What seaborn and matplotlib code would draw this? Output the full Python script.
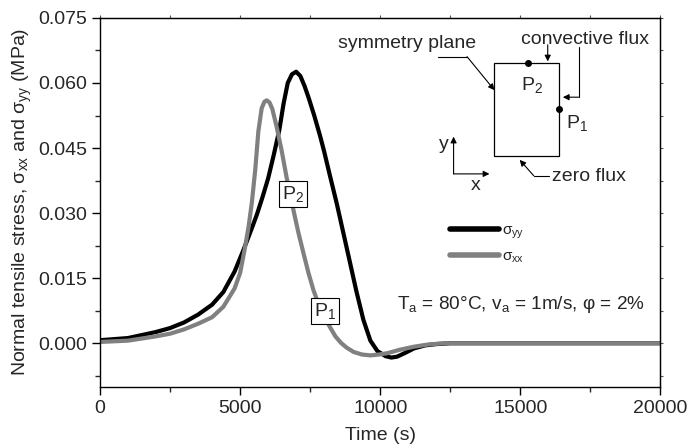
import matplotlib
matplotlib.use('Agg')
import matplotlib.pyplot as plt
import matplotlib.ticker as mticker
from matplotlib.patches import Rectangle
import pandas as pd
import seaborn as sns

# values
time_yy = [0, 1000, 2000, 2500, 3000, 3500, 4000, 4400, 4800, 5100, 5400,
           5600, 5800, 6000, 6200, 6400, 6550, 6700, 6850, 7000, 7150, 7300,
           7450, 7650, 7850, 8000, 8200, 8450, 8700, 8950, 9150, 9400, 9650,
           9900, 10200, 10400, 10600, 10900, 11200, 11600, 12000, 12500, 20000]
sigma_yy = [0.0007, 0.0012, 0.0026, 0.0035, 0.0048, 0.0066, 0.0089, 0.0118,
            0.0165, 0.0212, 0.0262, 0.0297, 0.0337, 0.0380, 0.0434, 0.0492,
            0.0552, 0.0600, 0.0620, 0.0626, 0.0616, 0.0593, 0.0565, 0.0524,
            0.0479, 0.0442, 0.0388, 0.0322, 0.0250, 0.0178, 0.0120, 0.0054,
            0.0006, -0.0018, -0.0030, -0.0033, -0.0031, -0.0022, -0.0012,
            -0.0005, -0.0002, 0.0, 0.0]

time_xx = [0, 1000, 2000, 2500, 3000, 3500, 4000, 4400, 4800, 5000, 5150,
           5300, 5420, 5540, 5650, 5770, 5870, 5950, 6050, 6150, 6300, 6480,
           6660, 6900, 7080, 7260, 7440, 7620, 7800, 8000, 8200, 8400, 8600,
           8800, 9050, 9350, 9650, 9950, 10250, 10700, 11200, 11700, 12300,
           20000]
sigma_xx = [0.0003, 0.0006, 0.0016, 0.0022, 0.0032, 0.0045, 0.0060, 0.0084,
            0.0126, 0.0162, 0.0212, 0.0268, 0.0325, 0.0400, 0.0488, 0.0542,
            0.0557, 0.0560, 0.0555, 0.0540, 0.0500, 0.0445, 0.0382, 0.0308,
            0.0255, 0.0208, 0.0162, 0.0122, 0.0090, 0.0062, 0.0038, 0.0016,
            0.0001, -0.0010, -0.0020, -0.0026, -0.0028, -0.0026, -0.0023,
            -0.0015, -0.0008, -0.0003, 0.0, 0.0]

series_labels = [r'σ$_\mathrm{yy}$', r'σ$_\mathrm{xx}$']
series_colors = ['#000000', '#808080']

x_ticks = [0, 5000, 10000, 15000, 20000]
y_ticks = [0.000, 0.015, 0.030, 0.045, 0.060, 0.075]

sns.set_style('ticks')
plt.rcParams['font.family'] = ['Liberation Sans', 'DejaVu Sans']
plt.rcParams['mathtext.fontset'] = 'custom'
plt.rcParams['mathtext.rm'] = 'Liberation Sans'
plt.rcParams['mathtext.it'] = 'Liberation Sans:italic'

df = pd.DataFrame({
    'time': time_yy + time_xx,
    'stress': sigma_yy + sigma_xx,
    'series': [series_labels[0]] * len(time_yy) + [series_labels[1]] * len(time_xx),
})

fig = plt.figure(figsize=(6.9, 4.48), dpi=100)
ax = fig.add_axes([0.145, 0.137, 0.812, 0.823])

sns.lineplot(data=df, x='time', y='stress', hue='series',
             palette=dict(zip(series_labels, series_colors)),
             linewidth=3, ax=ax, legend=True, sort=True)

ax.set_xlim(0, 20000)
ax.set_ylim(-0.01, 0.075)
ax.set_xticks(x_ticks)
ax.set_yticks(y_ticks)
ax.xaxis.set_minor_locator(mticker.MultipleLocator(2500))
ax.yaxis.set_minor_locator(mticker.MultipleLocator(0.0075))
ax.yaxis.set_major_formatter(mticker.FormatStrFormatter('%.3f'))
ax.tick_params(which='major', direction='out', length=6, width=1,
               labelsize=14, color='black')
ax.tick_params(which='minor', direction='out', length=3.5, width=1)
for spine in ax.spines.values():
    spine.set_visible(True)
    spine.set_linewidth(1)
    spine.set_color('black')

# small unlabeled ticks on the top and right frame
sec_x = ax.secondary_xaxis('top')
sec_x.xaxis.set_major_locator(mticker.MultipleLocator(2500))
sec_x.tick_params(length=2, width=0.8, labeltop=False, color='#555555')
sec_y = ax.secondary_yaxis('right')
sec_y.yaxis.set_major_locator(mticker.MultipleLocator(0.0075))
sec_y.tick_params(length=2, width=0.8, labelright=False, color='#555555')

ax.set_xlabel('Time (s)', fontsize=14, labelpad=7)
ax.set_ylabel(r'Normal tensile stress, σ$_\mathrm{xx}$ and σ$_\mathrm{yy}$ (MPa)',
              fontsize=14, labelpad=3)

leg = ax.legend(loc='upper left', bbox_to_anchor=(0.6, 0.48), frameon=False,
                fontsize=11, handlelength=3.2, handletextpad=0.2,
                labelspacing=0.55)
for line in leg.get_lines():
    line.set_linewidth(4)

# boxed point labels on the curve
box = dict(boxstyle='square,pad=0.15', fc='white', ec='black', lw=0.8)
ax.text(0.345, 0.522, r'P$_\mathrm{2}$', transform=ax.transAxes, fontsize=14,
        ha='center', va='center', bbox=box)
ax.text(0.401, 0.206, r'P$_\mathrm{1}$', transform=ax.transAxes, fontsize=14,
        ha='center', va='center', bbox=box)

ax.text(0.751, 0.222, r'T$_\mathrm{a}$ = 80°C, v$_\mathrm{a}$ = 1m/s, φ = 2%',
        transform=ax.transAxes, fontsize=13.7, ha='center', va='center')

# inset sketch of the domain
tr = ax.transAxes
ax.add_patch(Rectangle((0.704, 0.626), 0.116, 0.253, transform=tr,
                       fill=False, ec='black', lw=0.9))
ax.plot([0.764], [0.879], 'o', color='black', ms=4, transform=tr)
ax.plot([0.819], [0.752], 'o', color='black', ms=4, transform=tr)
ax.text(0.771, 0.818, r'P$_\mathrm{2}$', transform=tr, fontsize=14,
        ha='center', va='center')
ax.text(0.851, 0.714, r'P$_\mathrm{1}$', transform=tr, fontsize=14,
        ha='center', va='center')
ax.text(0.751, 0.942, 'convective flux', transform=tr, fontsize=14,
        ha='left', va='center')
ax.text(0.424, 0.931, 'symmetry plane', transform=tr, fontsize=14,
        ha='left', va='center')
ax.text(0.807, 0.570, 'zero flux', transform=tr, fontsize=14,
        ha='left', va='center')
ax.text(0.613, 0.657, 'y', transform=tr, fontsize=14, ha='center', va='center')
ax.text(0.671, 0.545, 'x', transform=tr, fontsize=14, ha='center', va='center')

arrow = dict(arrowstyle='-|>', color='black', lw=0.8, mutation_scale=9,
             shrinkA=0, shrinkB=0)
# convective flux arrows
ax.annotate('', xy=(0.799, 0.882), xytext=(0.799, 0.927),
            xycoords=tr, textcoords=tr, arrowprops=arrow)
ax.plot([0.854, 0.854], [0.922, 0.785], color='black', lw=0.8, transform=tr)
ax.annotate('', xy=(0.826, 0.785), xytext=(0.854, 0.785),
            xycoords=tr, textcoords=tr, arrowprops=arrow)
# symmetry plane arrow
ax.plot([0.604, 0.655], [0.895, 0.895], color='black', lw=0.8, transform=tr)
ax.annotate('', xy=(0.704, 0.804), xytext=(0.655, 0.895),
            xycoords=tr, textcoords=tr, arrowprops=arrow)
# zero flux arrow
ax.plot([0.802, 0.774], [0.572, 0.572], color='black', lw=0.8, transform=tr)
ax.annotate('', xy=(0.749, 0.615), xytext=(0.774, 0.572),
            xycoords=tr, textcoords=tr, arrowprops=arrow)
# coordinate axes
ax.annotate('', xy=(0.631, 0.678), xytext=(0.631, 0.577),
            xycoords=tr, textcoords=tr, arrowprops=arrow)
ax.annotate('', xy=(0.695, 0.577), xytext=(0.631, 0.577),
            xycoords=tr, textcoords=tr, arrowprops=arrow)

fig.savefig('out.png', dpi=100)
